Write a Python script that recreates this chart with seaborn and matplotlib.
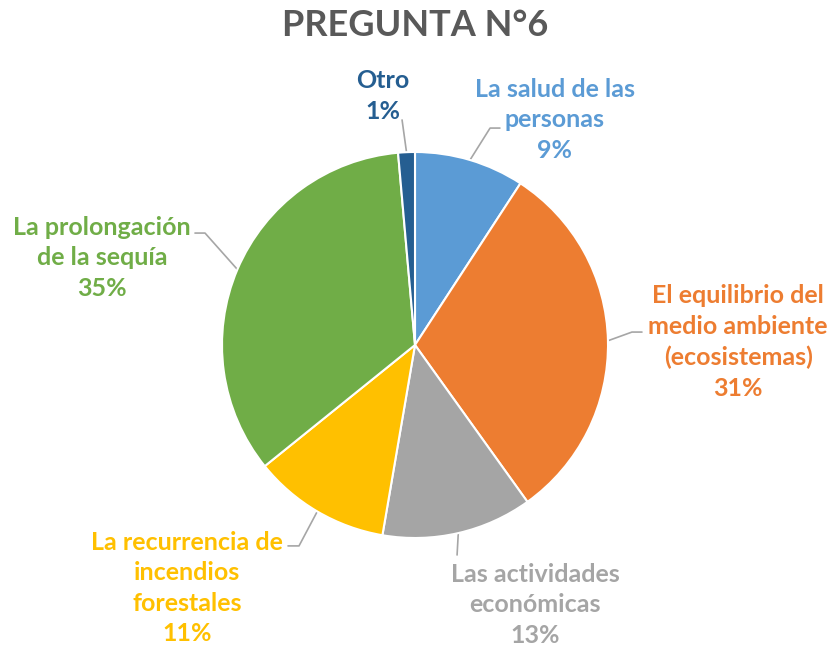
import numpy as np
import matplotlib
matplotlib.use("Agg")
import matplotlib.pyplot as plt
import seaborn as sns

# Survey results, question 6 (shares)
labels = ["La salud de las\npersonas", "El equilibrio del\nmedio ambiente\n(ecosistemas)",
          "Las actividades\neconómicas", "La recurrencia de\nincendios\nforestales",
          "La prolongación\nde la sequía", "Otro"]
shares = [9.2, 30.9, 12.6, 11.5, 34.4, 1.4]
pct_text = ["9%", "31%", "13%", "11%", "35%", "1%"]
colors = ["#5B9BD5", "#ED7D31", "#A5A5A5", "#FFC000", "#70AD47", "#255E91"]

# label placement (data units, pie radius = 1)
text_pos = [(0.725, 1.166), (1.674, 0.016), (0.622, -1.347),
            (-1.181, -1.259), (-1.622, 0.451), (-0.166, 1.290)]
leader_pts = [[(0.389, 1.124), (0.440, 1.124)],
              [(1.124, 0.067), (1.176, 0.067)],
              [(0.218, -1.088)],
              [(-0.601, -1.041), (-0.658, -1.041)],
              [(-1.088, 0.580), (-1.140, 0.580)],
              [(-0.067, 1.166)]]

sns.set_theme(style="white")
plt.rcParams['font.family'] = ['Lato', 'DejaVu Sans']

fig = plt.figure(figsize=(8.31, 6.5), dpi=100)
ax = fig.add_axes([0, 0, 1, 1])

wedges, _ = ax.pie(shares, colors=colors, startangle=90, counterclock=False,
                   radius=1.0, wedgeprops=dict(edgecolor="white", linewidth=1.5))

for w, lab, pct, c, pos, pts in zip(wedges, labels, pct_text, colors, text_pos, leader_pts):
    mid = np.deg2rad((w.theta1 + w.theta2) / 2)
    start = (np.cos(mid), np.sin(mid))
    xs = [start[0]] + [p[0] for p in pts]
    ys = [start[1]] + [p[1] for p in pts]
    ax.plot(xs, ys, color="#A6A6A6", lw=1.2, clip_on=False, zorder=0)
    ax.text(pos[0], pos[1], lab + "\n" + pct, ha="center", va="center",
            color=c, fontsize=18, fontweight="bold", linespacing=1.4)

ax.set_xlim(-415 / 193, 416 / 193)
ax.set_ylim(-305 / 193, 345 / 193)
ax.set_aspect("equal")
ax.axis("off")

fig.text(0.5, 1 - 25 / 650, "PREGUNTA N°6", ha="center", va="center",
         fontsize=26, fontweight="bold", color="#595959")

fig.savefig("out.png", dpi=100)
